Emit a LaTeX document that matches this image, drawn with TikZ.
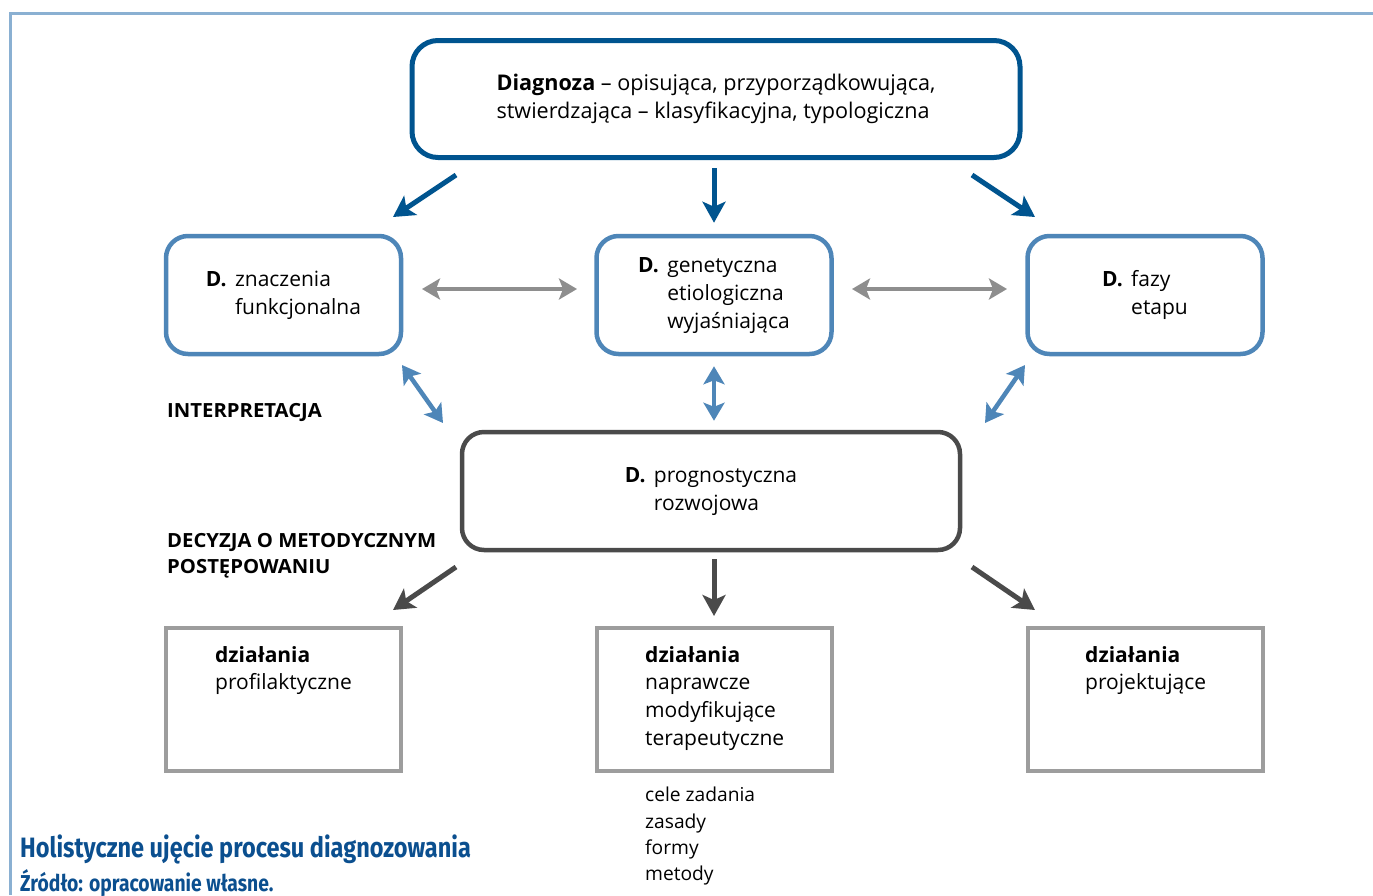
\documentclass[tikz,border=0pt]{standalone}
\usepackage{fontspec}
\setmainfont{Open Sans}
\newfontfamily\capfont[FakeStretch=0.84]{Fira Sans}
\newfontfamily\lblfont[FakeStretch=1.04]{Open Sans}
\usetikzlibrary{arrows.meta}
\definecolor{frameblue}{HTML}{8AB0D2}
\definecolor{dblue}{HTML}{00548F}
\definecolor{mblue}{HTML}{4E86B8}
\definecolor{lgray}{HTML}{8E8E8E}
\definecolor{dgray}{HTML}{4A4A4A}
\definecolor{bgray}{HTML}{9D9D9D}
\definecolor{capblue}{HTML}{0B4F8F}
\tikzset{
  txt/.style={font=\fontsize{21}{27.8}\selectfont, text=black},
  topbox/.style={draw=dblue, line width=5pt, rounded corners=26pt, minimum width=608pt, minimum height=117pt, font=\fontsize{21.6}{27.5}\selectfont, align=left},
  midbox/.style={draw=mblue, line width=4.5pt, rounded corners=22pt, minimum width=235pt, minimum height=118pt, txt, align=left},
  progbox/.style={draw=dgray, line width=4.5pt, rounded corners=22pt, minimum width=498pt, minimum height=118pt, txt, align=left},
  actbox/.style={draw=bgray, line width=4pt, minimum width=235pt, minimum height=143pt},
  acttxt/.style={txt, anchor=north west, align=left, inner sep=0pt},
  lbl/.style={font=\lblfont\fontsize{19.5}{25.5}\selectfont\bfseries, anchor=base west, align=left, inner sep=0pt},
  bluearr/.style={draw=dblue, line width=5pt, -{Stealth[length=21pt,width=23pt,inset=5pt]}},
  grayarr/.style={draw=dgray, line width=5pt, -{Stealth[length=21pt,width=23pt,inset=5pt]}},
  twoblue/.style={draw=mblue, line width=4.5pt, {Stealth[length=18pt,width=21pt,inset=4pt]}-{Stealth[length=18pt,width=21pt,inset=4pt]}},
  twogray/.style={draw=lgray, line width=4.5pt, {Stealth[length=18pt,width=21pt,inset=4pt]}-{Stealth[length=18pt,width=21pt,inset=4pt]}},
}
\begin{document}
\begin{tikzpicture}[x=1pt,y=-1pt]
\useasboundingbox (0,0) rectangle (1373,895);
\draw[frameblue, line width=3pt] (10,895) -- (10,13) -- (1373,13);

% boxes
\node[topbox] (diag) at (716,99) {\textbf{Diagnoza} – opisująca, przyporządkowująca,\\stwierdzająca – klasyfikacyjna, typologiczna};
\node[midbox] (znacz) at (283.5,295) {\begin{tabular}{@{}l@{\hspace{0.4em}}l@{}}\textbf{D.} & znaczenia\\ & funkcjonalna\end{tabular}};
\node[midbox] (genet) at (714,295) {\begin{tabular}{@{}l@{\hspace{0.4em}}l@{}}\textbf{D.} & genetyczna\\ & etiologiczna\\ & wyjaśniająca\end{tabular}};
\node[midbox] (fazy) at (1145,295) {\begin{tabular}{@{}l@{\hspace{0.4em}}l@{}}\textbf{D.} & fazy\\ & etapu\end{tabular}};
\node[progbox] (prog) at (711,491) {\begin{tabular}{@{}l@{\hspace{0.4em}}l@{}}\textbf{D.} & prognostyczna\\ & rozwojowa\end{tabular}};

\node[actbox] (prof) at (283.5,699.5) {};
\node[actbox] (napr) at (714,699.5) {};
\node[actbox] (proj) at (1145,699.5) {};
\node[acttxt] (proftxt) at (215,646) {\textbf{działania}\\profilaktyczne};
\node[acttxt] (naprtxt) at (645,646) {\textbf{działania}\\naprawcze\\modyfikujące\\terapeutyczne};
\node[acttxt] (projtxt) at (1085,646) {\textbf{działania}\\projektujące};
\node[acttxt, font=\fontsize{19.2}{26.3}\selectfont] (cele) at (645,787) {cele zadania\\zasady\\formy\\metody};

% labels
\node[lbl] (interp) at (167,417) {INTERPRETACJA};
\node[lbl] (decyz) at (167,573) {DECYZJA O METODYCZNYM\\POSTĘPOWANIU};
\node[anchor=base west, inner sep=0pt, text=capblue, font=\capfont\bfseries\fontsize{28}{30}\selectfont] (cap1) at (20,857) {Holistyczne ujęcie procesu diagnozowania};
\node[anchor=base west, inner sep=0pt, text=capblue, font=\capfont\bfseries\fontsize{23}{26}\selectfont] (cap2) at (20,891) {Źródło: opracowanie własne.};

% arrow end points
\coordinate (a1s) at (456,175); \coordinate (a1e) at (393,217);
\coordinate (a3s) at (972,175); \coordinate (a3e) at (1035,217);
\coordinate (b1s) at (402,365); \coordinate (b1e) at (443,423);
\coordinate (b3s) at (1025,365); \coordinate (b3e) at (985,423);
\coordinate (c1s) at (456,567); \coordinate (c1e) at (393,610);
\coordinate (c3s) at (972,567); \coordinate (c3e) at (1035,610);
\coordinate (h1s) at (422,289); \coordinate (h1e) at (577,289);
\coordinate (h2s) at (852,289); \coordinate (h2e) at (1007,289);

% top arrows
\draw[bluearr] (a1s) -- (a1e);
\draw[bluearr, shorten <=8pt, shorten >=11pt] (diag.south -| genet.north) -- (genet.north);
\draw[bluearr] (a3s) -- (a3e);
% horizontal
\draw[twogray] (h1s) -- (h1e);
\draw[twogray] (h2s) -- (h2e);
% interpretation arrows
\draw[twoblue] (b1s) -- (b1e);
\draw[twoblue, shorten <=10pt, shorten >=9pt] (genet.south) -- (prog.north -| genet.south);
\draw[twoblue] (b3s) -- (b3e);
% bottom arrows
\draw[grayarr] (c1s) -- (c1e);
\draw[grayarr, shorten <=7pt, shorten >=10pt] (prog.south -| napr.north) -- (napr.north);
\draw[grayarr] (c3s) -- (c3e);
\end{tikzpicture}
\end{document}
